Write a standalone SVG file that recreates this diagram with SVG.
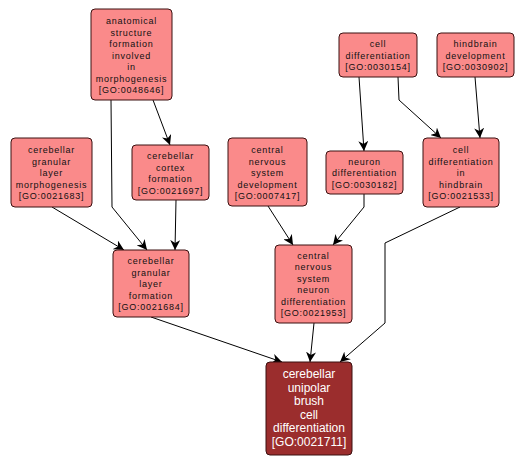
<svg xmlns="http://www.w3.org/2000/svg" width="526" height="465" viewBox="0 0 526 465">
<defs>
<style>
.n rect{fill:#fa8a8a;stroke:#3a1010;stroke-width:1}
.n text{font-family:"Liberation Sans",Arial,sans-serif;font-size:9px;letter-spacing:0.75px;fill:#111;text-anchor:middle}
.f rect{fill:#9b2d2d;stroke:#3a1010;stroke-width:1}
.f text{font-family:"Liberation Sans",Arial,sans-serif;font-size:12px;fill:#fff;text-anchor:middle}
.e path{fill:none;stroke:#000;stroke-width:1;marker-end:url(#ah)}
</style>
<marker id="ah" viewBox="0 0 10 10" refX="10" refY="5" markerWidth="10" markerHeight="10" markerUnits="userSpaceOnUse" orient="auto">
<path d="M0,0 L10,5 L0,10 L3,5 Z" fill="#000"/>
</marker>
</defs>
<rect width="526" height="465" fill="#fff"/>
<g id="edges" class="e">
<path d="M111,100 L112,207 L147,250"/>
<path d="M153,100 L170,145"/>
<path d="M176,200 L175,250"/>
<path d="M52,207 L124,250"/>
<path d="M268,206 L293,245"/>
<path d="M364,194 L364,207 L333,245"/>
<path d="M359,77 L364,151"/>
<path d="M398,77 L399,100 L441,138"/>
<path d="M475,77 L480,138"/>
<path d="M151,317 L282,362"/>
<path d="M314,323 L310,362"/>
<path d="M460,207 L385,243 L385,323 L340,362"/>
</g>
<g id="GO0048646" class="n"><rect x="91" y="9" width="81" height="91" rx="4"/>
<text x="131.5" y="24">anatomical</text><text x="131.5" y="35.5">structure</text><text x="131.5" y="47">formation</text><text x="131.5" y="58.5">involved</text><text x="131.5" y="70">in</text><text x="131.5" y="81.5">morphogenesis</text><text x="131.5" y="93">[GO:0048646]</text></g>
<g id="GO0021697" class="n"><rect x="132" y="145" width="77" height="55" rx="4"/>
<text x="170.5" y="159">cerebellar</text><text x="170.5" y="170.5">cortex</text><text x="170.5" y="182">formation</text><text x="170.5" y="193.5">[GO:0021697]</text></g>
<g id="GO0021683" class="n"><rect x="11" y="138" width="81" height="69" rx="4"/>
<text x="51.5" y="153">cerebellar</text><text x="51.5" y="164.5">granular</text><text x="51.5" y="176">layer</text><text x="51.5" y="187.5">morphogenesis</text><text x="51.5" y="199">[GO:0021683]</text></g>
<g id="GO0021684" class="n"><rect x="113" y="250" width="76" height="67" rx="4"/>
<text x="151" y="264">cerebellar</text><text x="151" y="275.5">granular</text><text x="151" y="287">layer</text><text x="151" y="298.5">formation</text><text x="151" y="310">[GO:0021684]</text></g>
<g id="GO0007417" class="n"><rect x="228" y="138" width="79" height="68" rx="4"/>
<text x="267.5" y="153">central</text><text x="267.5" y="164.5">nervous</text><text x="267.5" y="176">system</text><text x="267.5" y="187.5">development</text><text x="267.5" y="199">[GO:0007417]</text></g>
<g id="GO0030182" class="n"><rect x="326" y="151" width="77" height="43" rx="4"/>
<text x="364.5" y="164.5">neuron</text><text x="364.5" y="176">differentiation</text><text x="364.5" y="187.5">[GO:0030182]</text></g>
<g id="GO0021953" class="n"><rect x="275" y="245" width="77" height="78" rx="4"/>
<text x="313.5" y="258.5">central</text><text x="313.5" y="270">nervous</text><text x="313.5" y="281.5">system</text><text x="313.5" y="293">neuron</text><text x="313.5" y="304.5">differentiation</text><text x="313.5" y="316">[GO:0021953]</text></g>
<g id="GO0030154" class="n"><rect x="339" y="33" width="78" height="44" rx="4"/>
<text x="378" y="47">cell</text><text x="378" y="58.5">differentiation</text><text x="378" y="70">[GO:0030154]</text></g>
<g id="GO0030902" class="n"><rect x="437" y="33" width="77" height="44" rx="4"/>
<text x="475.5" y="47">hindbrain</text><text x="475.5" y="58.5">development</text><text x="475.5" y="70">[GO:0030902]</text></g>
<g id="GO0021533" class="n"><rect x="423" y="138" width="76" height="69" rx="4"/>
<text x="461" y="153">cell</text><text x="461" y="164.5">differentiation</text><text x="461" y="176">in</text><text x="461" y="187.5">hindbrain</text><text x="461" y="199">[GO:0021533]</text></g>
<g id="GO0021711" class="f"><rect x="266" y="362" width="86" height="93" rx="4"/>
<text x="309" y="378">cerebellar</text><text x="309" y="391.5">unipolar</text><text x="309" y="405">brush</text><text x="309" y="418.5">cell</text><text x="309" y="432">differentiation</text><text x="309" y="445.5">[GO:0021711]</text></g>
</svg>
